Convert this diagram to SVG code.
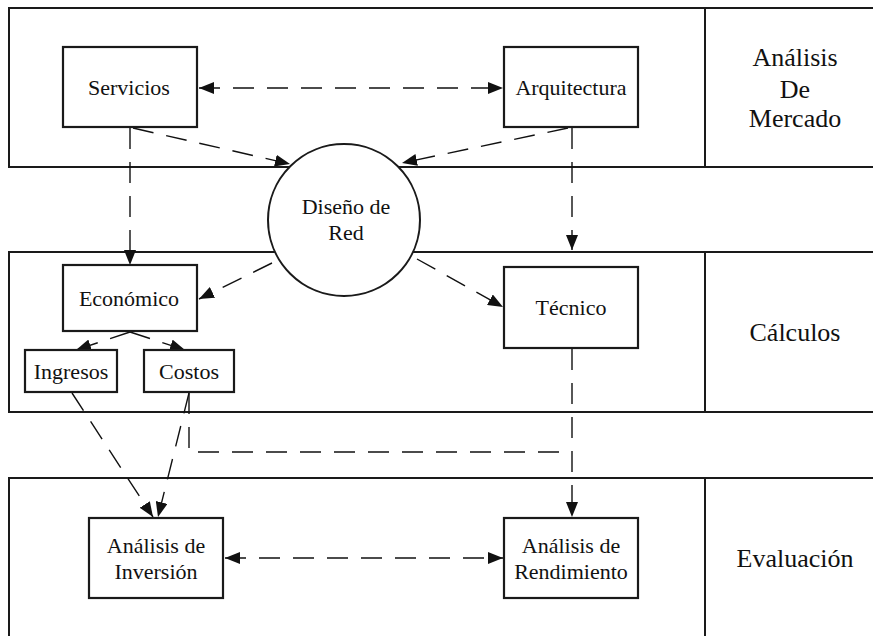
<svg xmlns="http://www.w3.org/2000/svg" width="873" height="636" viewBox="0 0 873 636">
  <style>
    .band { fill: none; stroke: #1a1a1a; stroke-width: 2; }
    .box { fill: #ffffff; stroke: #1a1a1a; stroke-width: 2.2; }
    .lbl { font-family: 'Liberation Serif', 'Times New Roman', serif; font-size: 22px; fill: #111; text-anchor: middle; }
    .side { font-family: 'Liberation Serif', 'Times New Roman', serif; font-size: 26px; fill: #111; text-anchor: middle; }
    .dash { fill: none; stroke: #111; stroke-width: 1.4; stroke-dasharray: 21 13; }
  </style>
  <defs>
    <marker id="arrow" markerUnits="userSpaceOnUse" markerWidth="16" markerHeight="12" refX="15" refY="6" orient="auto-start-reverse">
      <path d="M0,0 L15,6 L0,12 z" fill="#111"/>
    </marker>
  </defs>

  <rect width="873" height="636" fill="#ffffff"/>

  <!-- Bands with their titles -->
  <g id="band-mercado">
    <rect class="band" x="9" y="8" width="880" height="159"/>
    <line class="band" x1="705" y1="8" x2="705" y2="167"/>
    <text class="side" x="795" y="66">Análisis</text>
    <text class="side" x="795" y="98">De</text>
    <text class="side" x="795" y="127">Mercado</text>
  </g>
  <g id="band-calculos">
    <rect class="band" x="9" y="252" width="880" height="160"/>
    <line class="band" x1="705" y1="252" x2="705" y2="412"/>
    <text class="side" x="795" y="341">Cálculos</text>
  </g>
  <g id="band-evaluacion">
    <rect class="band" x="9" y="478" width="880" height="170"/>
    <line class="band" x1="705" y1="478" x2="705" y2="640"/>
    <text class="side" x="795" y="567">Evaluación</text>
  </g>

  <!-- Connectors -->
  <g id="connectors">
    <line class="dash" x1="199" y1="88" x2="503" y2="88" marker-start="url(#arrow)" marker-end="url(#arrow)"/>
    <line class="dash" x1="133" y1="128" x2="290" y2="164" marker-end="url(#arrow)"/>
    <line class="dash" x1="568" y1="128" x2="402" y2="163" marker-end="url(#arrow)"/>
    <line class="dash" x1="130" y1="128" x2="130" y2="265" marker-end="url(#arrow)"/>
    <line class="dash" x1="572" y1="128" x2="572" y2="250" marker-end="url(#arrow)"/>
    <line class="dash" x1="272" y1="263" x2="199" y2="299" marker-end="url(#arrow)"/>
    <line class="dash" x1="417" y1="259" x2="503" y2="307" marker-end="url(#arrow)"/>
    <line class="dash" x1="130" y1="332" x2="76" y2="350" marker-end="url(#arrow)"/>
    <line class="dash" x1="130" y1="332" x2="185" y2="350" marker-end="url(#arrow)"/>
    <line class="dash" x1="72" y1="393" x2="153" y2="517" marker-end="url(#arrow)"/>
    <line class="dash" x1="189" y1="393" x2="158" y2="517" marker-end="url(#arrow)"/>
    <path class="dash" d="M189,393 V452 H572"/>
    <line class="dash" x1="572" y1="349" x2="572" y2="517" marker-end="url(#arrow)"/>
    <line class="dash" x1="225" y1="558" x2="503" y2="558" marker-start="url(#arrow)" marker-end="url(#arrow)"/>
  </g>

  <!-- Nodes -->
  <g id="servicios">
    <rect class="box" x="63" y="47" width="134" height="80"/>
    <text class="lbl" x="129" y="95">Servicios</text>
  </g>
  <g id="arquitectura">
    <rect class="box" x="504" y="47" width="134" height="80"/>
    <text class="lbl" x="571" y="95">Arquitectura</text>
  </g>
  <g id="diseno-red">
    <circle cx="344" cy="220" r="76" fill="#ffffff" stroke="#1a1a1a" stroke-width="2"/>
    <text class="lbl" x="346" y="214">Diseño de</text>
    <text class="lbl" x="346" y="240">Red</text>
  </g>
  <g id="economico">
    <rect class="box" x="63" y="265" width="134" height="66"/>
    <text class="lbl" x="129" y="306">Económico</text>
  </g>
  <g id="ingresos">
    <rect class="box" x="25" y="350" width="92" height="42"/>
    <text class="lbl" x="71" y="379">Ingresos</text>
  </g>
  <g id="costos">
    <rect class="box" x="144" y="350" width="90" height="42"/>
    <text class="lbl" x="189" y="379">Costos</text>
  </g>
  <g id="tecnico">
    <rect class="box" x="504" y="267" width="134" height="81"/>
    <text class="lbl" x="571" y="315">Técnico</text>
  </g>
  <g id="analisis-inversion">
    <rect class="box" x="89" y="518" width="134" height="80"/>
    <text class="lbl" x="156" y="553">Análisis de</text>
    <text class="lbl" x="156" y="579">Inversión</text>
  </g>
  <g id="analisis-rendimiento">
    <rect class="box" x="504" y="518" width="134" height="80"/>
    <text class="lbl" x="571" y="553">Análisis de</text>
    <text class="lbl" x="571" y="579">Rendimiento</text>
  </g>
</svg>
